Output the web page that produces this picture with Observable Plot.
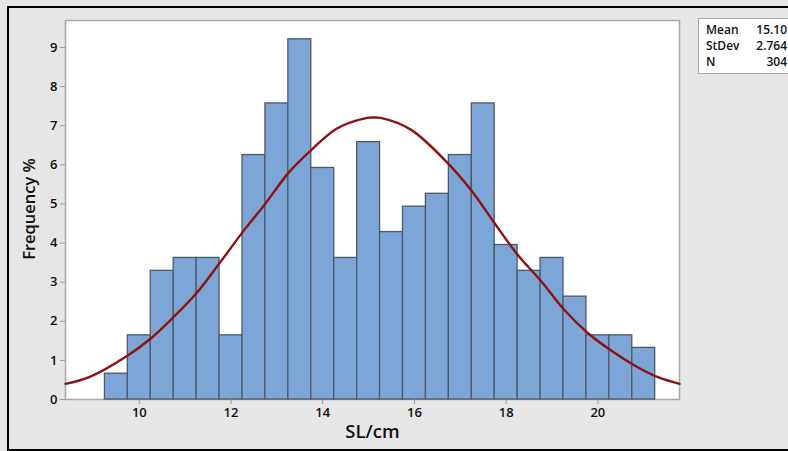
<!DOCTYPE html>
<html>
<head>
<meta charset="utf-8">
<script src="https://cdn.jsdelivr.net/npm/d3@7"></script>
<script src="https://cdn.jsdelivr.net/npm/@observablehq/plot@0.6"></script>
<style>
  html, body { margin: 0; padding: 0; background: #e6e6e6; overflow: hidden; }
  #wrap { position: relative; width: 788px; height: 451px; background: #e6e6e6; }
  #border { position: absolute; left: 7px; top: 6px; width: 800px; height: 441px;
            border: 2px solid #000; box-sizing: content-box; }
  #chart { position: absolute; left: 0; top: 0; }
  #stats { position: absolute; left: 698px; top: 18px; width: 110px; height: 54px;
           background: #fff; border: 1px solid #a8a8a8;
           font-family: "Open Sans", sans-serif; font-size: 12px; font-weight: 600; color: #111; }
  #stats .row { position: absolute; left: 7px; width: 81px; line-height: 14px; }
  #stats .row span.v { position: absolute; right: 0; }
</style>
</head>
<body>
<div id="wrap">
  <div id="border"></div>
  <div id="chart"></div>
  <div id="stats"></div>
</div>
<script>
// Histogram bins (lower edges, width 0.5 cm) and frequency %
const binLower = [9.25, 9.75, 10.25, 10.75, 11.25, 11.75, 12.25, 12.75, 13.25, 13.75, 14.25, 14.75,
                  15.25, 15.75, 16.25, 16.75, 17.25, 17.75, 18.25, 18.75, 19.25, 19.75, 20.25, 20.75];
const binWidth = 0.5;
const freqPct = [0.66, 1.64, 3.29, 3.62, 3.62, 1.64, 6.25, 7.57, 9.21, 5.92, 3.62, 6.58,
                 4.28, 4.93, 5.26, 6.25, 7.57, 3.95, 3.29, 3.62, 2.63, 1.64, 1.64, 1.32];

// Fitted normal curve
const curveX = [8.39, 8.92, 9.74, 10.25, 10.74, 11.24, 11.74, 12.24, 12.73, 13.27, 13.76, 14.31,
                14.97, 15.10, 15.26, 15.92, 16.72, 17.23, 17.74, 18.25, 18.76, 19.27, 19.78,
                20.29, 20.80, 21.31, 21.78];
const curveY = [0.40, 0.58, 1.12, 1.56, 2.10, 2.71, 3.47, 4.26, 4.98, 5.82, 6.39, 6.93,
                7.20, 7.21, 7.20, 6.90, 6.05, 5.36, 4.52, 3.70, 3.03, 2.29, 1.70,
                1.25, 0.87, 0.57, 0.40];

const xTicks = [10, 12, 14, 16, 18, 20];
const yTicks = [0, 1, 2, 3, 4, 5, 6, 7, 8, 9];

const statLabels = ["Mean", "StDev", "N"];
const statValues = ["15.10", "2.764", "304"];

const bins = binLower.map((lo, i) => ({x1: lo, x2: lo + binWidth, y: freqPct[i]}));
const curve = curveX.map((x, i) => ({x, y: curveY[i]}));

const chart = Plot.plot({
  width: 788,
  height: 451,
  marginLeft: 65,
  marginRight: 109,
  marginTop: 20,
  marginBottom: 52,
  style: {background: "transparent", fontFamily: "Open Sans, sans-serif", fontSize: "13px", color: "#111"},
  x: {domain: [8.39, 21.78]},
  y: {domain: [0, 9.69]},
  marks: [
    Plot.frame({fill: "#fff", stroke: "#a8a8a8", strokeWidth: 1.5}),
    Plot.rectY(bins, {x1: "x1", x2: "x2", y: "y", fill: "#7ca6d8", stroke: "#4f5966", strokeWidth: 1.3, inset: 0}),
    Plot.line(curve, {x: "x", y: "y", stroke: "#8e1212", strokeWidth: 2.4, curve: "catmull-rom"}),
    Plot.axisX({ticks: xTicks, tickSize: 5, tickPadding: 3, stroke: "#999", fontSize: 13, fontWeight: 600, label: null}),
    Plot.axisY({ticks: yTicks, tickSize: 5, tickPadding: 3, stroke: "#999", fontSize: 13, fontWeight: 600, label: null}),
    Plot.text(["SL/cm"], {frameAnchor: "bottom", dy: 38, fontSize: 18.5, fontWeight: 600, fill: "#111"}),
    Plot.text(["Frequency %"], {frameAnchor: "left", textAnchor: "middle", dx: -36, dy: -1, rotate: -90, fontSize: 16.5, fontWeight: 600, fill: "#111"})
  ]
});
document.getElementById("chart").appendChild(chart);

const stats = document.getElementById("stats");
statLabels.forEach((l, i) => {
  const row = document.createElement("div");
  row.className = "row";
  row.style.top = (4 + i * 16) + "px";
  row.innerHTML = `<span>${l}</span><span class="v">${statValues[i]}</span>`;
  stats.appendChild(row);
});
</script>
</body>
</html>
